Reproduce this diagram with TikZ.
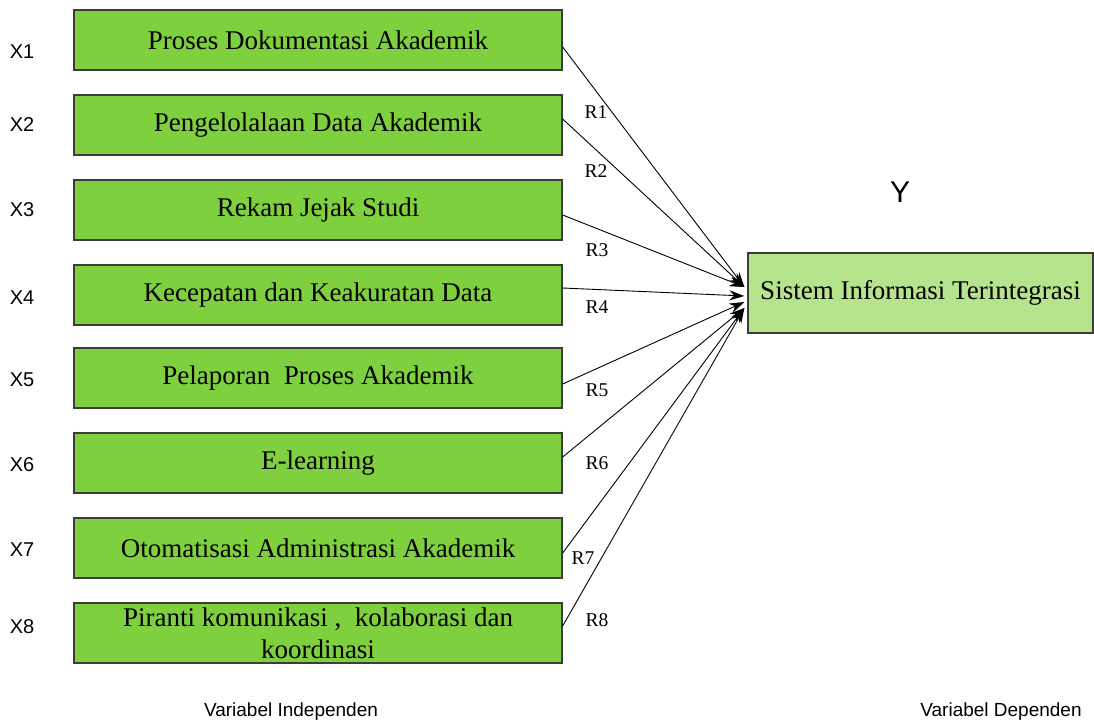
\documentclass[tikz,border=0pt]{standalone}
\usepackage{fontspec}
\setmainfont{Liberation Serif}
\newfontfamily\arialfont{Liberation Sans}
\usetikzlibrary{arrows.meta}
\definecolor{varGreen}{RGB}{126,208,62}
\definecolor{depGreen}{RGB}{182,228,140}
\definecolor{boxLine}{RGB}{60,60,60}
\begin{document}
\begin{tikzpicture}[x=1pt,y=-1pt,
    varbox/.style={draw=boxLine, line width=1.3pt, fill=varGreen, minimum width=488pt,
        minimum height=60pt, inner sep=0pt, font=\fontsize{27}{32}\selectfont, align=center},
    depbox/.style={draw=boxLine, line width=1.3pt, fill=depGreen, minimum width=345pt,
        minimum height=80pt, inner sep=0pt, font=\fontsize{27}{28}\selectfont},
    xlab/.style={font=\arialfont\fontsize{20}{22}\selectfont},
    rlab/.style={font=\fontsize{19.5}{20}\selectfont},
    link/.style={line width=0.9pt, -{Stealth[length=15pt,width=10pt]}}]
        \useasboundingbox (0,0) rectangle (1094,725);
        % independent variables
        \node[varbox] (b1) at (318,40) {Proses Dokumentasi Akademik};
        \node[varbox] (b2) at (318,125) {Pengelolalaan Data Akademik};
        \node[varbox] (b3) at (318,210) {Rekam Jejak Studi};
        \node[varbox] (b4) at (318,295) {Kecepatan dan Keakuratan Data};
        \node[varbox] (b5) at (318,378) {Pelaporan\ \ Proses Akademik};
        \node[varbox] (b6) at (318,463) {E-learning};
        \node[varbox] (b7) at (318,548) {Otomatisasi Administrasi Akademik};
        \node[varbox] (b8) at (318,633) {Piranti komunikasi ,\ \ kolaborasi dan\\koordinasi};
        % dependent variable
        \node[depbox] (y) at (920.5,293) {Sistem Informasi Terintegrasi};
        \node[font=\arialfont\fontsize{30}{32}\selectfont] (ylab) at (900,192) {Y};
        % labels X
        \node[xlab] (x1) at (22,52) {X1};
        \node[xlab] (x2) at (22,125) {X2};
        \node[xlab] (x3) at (22,210) {X3};
        \node[xlab] (x4) at (22,298) {X4};
        \node[xlab] (x5) at (22,380) {X5};
        \node[xlab] (x6) at (22,465) {X6};
        \node[xlab] (x7) at (22,550) {X7};
        \node[xlab] (x8) at (22,627) {X8};
        % arrow ends
        \coordinate (t1) at ([xshift=-3pt,yshift=6pt]y.west);
        \coordinate (t4) at ([xshift=-3pt,yshift=-3pt]y.west);
        \coordinate (t5) at ([xshift=-3pt,yshift=-9pt]y.west);
        \coordinate (t6) at ([xshift=-3pt,yshift=-15pt]y.west);
        \draw[link] ([yshift=-7pt]b1.east) -- (t1);
        \draw[link] ([yshift=6pt]b2.east) -- (t1);
        \draw[link] ([yshift=-5pt]b3.east) -- (t1);
        \draw[link] ([yshift=7pt]b4.east) -- (t4);
        \draw[link] ([yshift=-6pt]b5.east) -- (t5);
        \draw[link] ([yshift=6pt]b6.east) -- (t6);
        \draw[link] ([yshift=-5pt]b7.east) -- (t6);
        \draw[link] ([yshift=7pt]b8.east) -- (t6);
        % labels R
        \node[rlab] (r1) at (596,112) {R1};
        \node[rlab] (r2) at (596,171) {R2};
        \node[rlab] (r3) at (597,250) {R3};
        \node[rlab] (r4) at (597,307) {R4};
        \node[rlab] (r5) at (597,390) {R5};
        \node[rlab] (r6) at (597,463) {R6};
        \node[rlab] (r7) at (583,558) {R7};
        \node[rlab] (r8) at (597,620) {R8};
        \node[font=\arialfont\fontsize{19}{20}\selectfont] (indep) at (291,712) {Variabel Independen};
        \node[font=\arialfont\fontsize{19}{20}\selectfont] (dep) at (1001,712) {Variabel Dependen};
\end{tikzpicture}
\end{document}
